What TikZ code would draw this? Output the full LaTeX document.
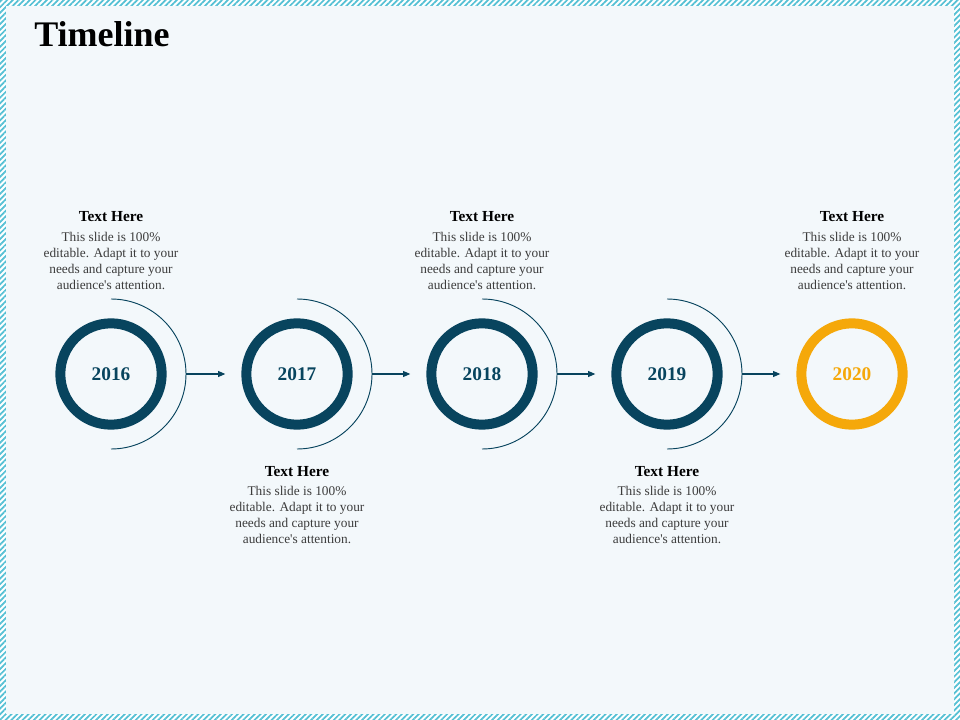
\documentclass[tikz,border=0pt]{standalone}
\usepackage{fontspec}
\setmainfont{Liberation Serif}
\usepackage{tikz}
\usetikzlibrary{arrows.meta,patterns.meta,positioning}

\definecolor{ringblue}{RGB}{8,68,94}
\definecolor{ringorange}{RGB}{245,168,10}
\definecolor{slidebg}{RGB}{243,248,251}
\definecolor{framecyan}{RGB}{84,192,212}
\definecolor{bodygray}{RGB}{60,60,60}

\begin{document}
\begin{tikzpicture}[x=0.75pt,y=-0.75pt,
		ring/.style={circle,draw=ringblue,line width=7.5pt,minimum size=76pt,inner sep=0pt,
			font=\bfseries\fontsize{14.5}{16}\selectfont,text=ringblue},
		head/.style={inner sep=0pt,font=\bfseries\fontsize{11.5}{13}\selectfont,text=black},
		body/.style={inner sep=0pt,align=center,font=\fontsize{10}{12}\selectfont,text=bodygray},
		link/.style={-{Triangle[length=5.5pt,width=4.5pt]},color=ringblue,line width=0.9pt,shorten >=12pt},
		halo/.style={color=ringblue,line width=0.7pt}]

			\useasboundingbox (0,0) rectangle (960,720);
			\fill[white] (0,0) rectangle (960,720);
			\fill[pattern={Lines[angle=45,distance=3pt,line width=1.3pt]},pattern color=framecyan] (0,0) rectangle (960,720);
			\fill[slidebg] (6,6) rectangle (954,714);

			\node[anchor=base west,inner sep=0pt,font=\bfseries\fontsize{27}{30}\selectfont] (title) at (34,47) {Timeline};

			\node[ring] (c2016) at (111,374) {2016};
			\node[ring] (c2017) at (297,374) {2017};
			\node[ring] (c2018) at (482,374) {2018};
			\node[ring] (c2019) at (667,374) {2019};
			\node[ring,draw=ringorange,text=ringorange] (c2020) at (852,374) {2020};

			\draw[halo] (111,299) arc[start angle=-90,end angle=90,radius=75];
			\draw[halo] (297,299) arc[start angle=-90,end angle=90,radius=75];
			\draw[halo] (482,299) arc[start angle=-90,end angle=90,radius=75];
			\draw[halo] (667,299) arc[start angle=-90,end angle=90,radius=75];

			\coordinate (e2016) at (186,374);
			\coordinate (e2017) at (372,374);
			\coordinate (e2018) at (557,374);
			\coordinate (e2019) at (742,374);

			\draw[link] (e2016) -- (c2017);
			\draw[link] (e2017) -- (c2018);
			\draw[link] (e2018) -- (c2019);
			\draw[link] (e2019) -- (c2020);

			\node[head] (h2016) at (111,217) {Text Here};
			\node[body] (t2016) at (111,261) {This slide is 100\%\\editable. Adapt it to your\\needs and capture your\\audience\textquotesingle s attention.};
			\node[head] (h2018) at (482,217) {Text Here};
			\node[body] (t2018) at (482,261) {This slide is 100\%\\editable. Adapt it to your\\needs and capture your\\audience\textquotesingle s attention.};
			\node[head] (h2020) at (852,217) {Text Here};
			\node[body] (t2020) at (852,261) {This slide is 100\%\\editable. Adapt it to your\\needs and capture your\\audience\textquotesingle s attention.};

			\node[head] (h2017) at (297,472) {Text Here};
			\node[body] (t2017) at (297,515) {This slide is 100\%\\editable. Adapt it to your\\needs and capture your\\audience\textquotesingle s attention.};
			\node[head] (h2019) at (667,472) {Text Here};
			\node[body] (t2019) at (667,515) {This slide is 100\%\\editable. Adapt it to your\\needs and capture your\\audience\textquotesingle s attention.};

		\end{tikzpicture}
\end{document}
